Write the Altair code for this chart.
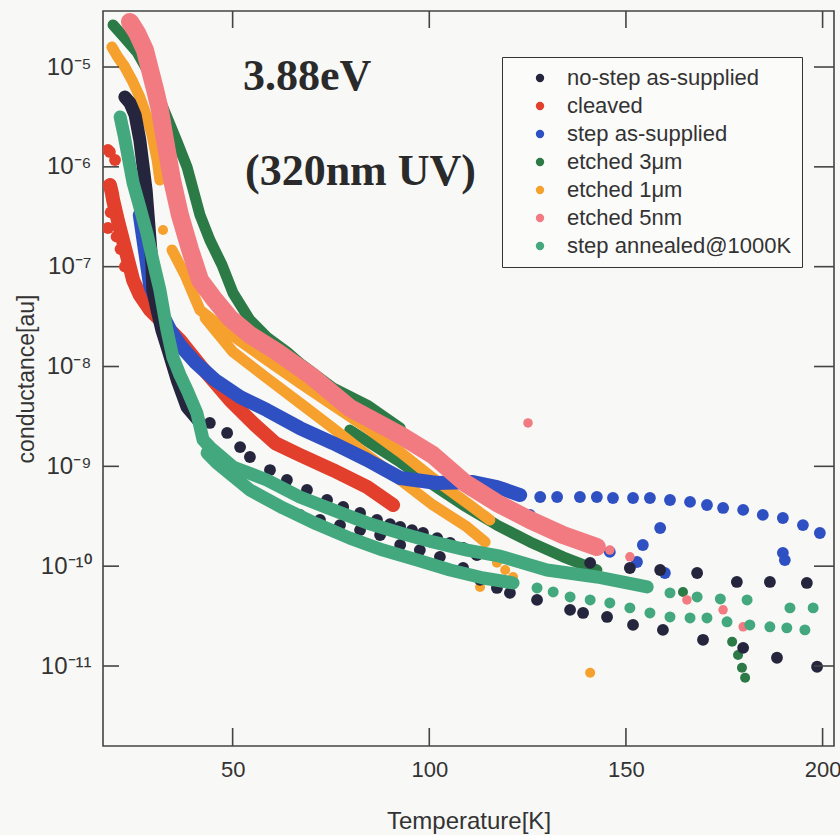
import altair as alt
import pandas as pd

SERIES = ["no-step as-supplied", "cleaved", "step as-supplied", "etched 3μm",
          "etched 1μm", "etched 5nm", "step annealed@1000K"]
COLORS = ["#25253d", "#e23f2c", "#2f50c2", "#2c7a46", "#f6a02e", "#f27b82", "#43a87e"]

X_TICKS = [50, 100, 150, 200]
Y_TICKS = [1e-5, 1e-6, 1e-7, 1e-8, 1e-9, 1e-10, 1e-11]
Y_LABELS = ["10\u207b\u2075", "10\u207b\u2076", "10\u207b\u2077", "10\u207b\u2078",
            "10\u207b\u2079", "10\u207b\u00b9\u2070", "10\u207b\u00b9\u00b9"]
X_DOMAIN = [17.04, 202.9]
Y_DOMAIN = [1.58e-12, 3.64e-5]

# ---------------- data ----------------
# cleaved
red_band_T = [18.8, 19.3, 19.6, 20.8, 22.1, 23.4, 24.7, 26.4, 29.0, 32.8, 36.6, 41.7, 49.3, 55.7, 60.8, 67.1, 75.5, 84.2, 90.8]
red_band_G = [6.58e-7, 5.47e-7, 4.66e-7, 2.93e-7, 1.85e-7, 1.17e-7, 7.35e-8, 5.20e-8, 3.68e-8, 2.61e-8, 1.84e-8, 1.03e-8,
              4.62e-9, 2.59e-9, 1.71e-9, 1.30e-9, 9.18e-10, 6.21e-10, 4.10e-10]
red_pts_T = [18.3, 18.8, 20.1, 18.3, 19.0, 20.5, 21.5, 22.6]
red_pts_G = [1.48e-6, 1.41e-6, 1.17e-6, 2.44e-7, 3.5e-7, 2.0e-7, 1.5e-7, 1.0e-7]

# etched 3um
green_a_T = [19.6, 22.6, 25.7, 29.0, 31.5, 33.6, 35.9, 38.4, 41.7, 44.2, 47.3, 50.1, 54.4, 58.7, 63.8, 67.1, 75.5, 84.2, 92.6]
green_a_G = [2.64e-5, 1.95e-5, 1.41e-5, 8.32e-6, 4.67e-6, 2.94e-6, 1.77e-6, 9.98e-7, 3.29e-7, 1.85e-7, 1.04e-7, 5.45e-8,
             2.92e-8, 1.97e-8, 1.40e-8, 1.08e-8, 6.10e-9, 4.11e-9, 2.42e-9]
green_b_T = [79.8, 92.6, 100.2, 108.6, 117.2, 125.6, 134.0, 142.6]
green_b_G = [2.31e-9, 1.10e-9, 6.81e-10, 4.10e-10, 2.58e-10, 1.75e-10, 1.24e-10, 9.16e-11]
green_pts_T = [153.6, 164.5, 177.0, 178.5, 179.5, 180.3]
green_pts_G = [6.49e-11, 5.52e-11, 1.75e-11, 1.29e-11, 9.59e-12, 7.62e-12]

# etched 1um
orange_top_T = [19.3, 20.8, 22.6, 24.4, 26.4, 28.2, 29.5, 30.8, 31.5]
orange_top_G = [1.59e-5, 1.26e-5, 1.0e-5, 7.41e-6, 5.01e-6, 3.16e-6, 2.08e-6, 1.17e-6, 7.38e-7]
orange_up_T = [34.6, 37.9, 41.7, 50.1, 58.7, 67.1, 75.5, 84.2, 92.6, 100.9, 109.6, 115.4]
orange_up_G = [1.47e-7, 8.26e-8, 3.68e-8, 2.02e-8, 1.16e-8, 6.84e-9, 4.11e-9, 2.42e-9, 1.39e-9, 7.64e-10, 4.30e-10, 2.90e-10]
orange_low_T = [43.0, 50.1, 58.7, 67.1, 75.5, 84.2, 92.6, 100.9, 109.6, 114.2]
orange_low_G = [3.06e-8, 1.40e-8, 7.67e-9, 4.31e-9, 2.42e-9, 1.30e-9, 7.30e-10, 4.10e-10, 2.47e-10, 1.75e-10]
orange_pts_T = [32.3, 117.2, 119.3, 121.3, 112.9, 140.9]
orange_pts_G = [2.33e-7, 1.08e-10, 9.16e-11, 7.80e-11, 6.19e-11, 8.55e-12]

# step as-supplied
blue_band_T = [26.4, 27.7, 29.0, 31.5, 34.1, 36.6, 40.4, 45.5, 51.9, 58.7, 67.1, 75.5, 84.2, 92.6, 102.0, 111.1, 117.2, 123.1]
blue_band_G = [3.29e-7, 1.47e-7, 6.55e-8, 3.68e-8, 2.32e-8, 1.64e-8, 1.11e-8, 7.33e-9, 4.95e-9, 3.66e-9, 2.42e-9, 1.71e-9,
               1.16e-9, 7.64e-10, 6.81e-10, 6.97e-10, 6.21e-10, 5.16e-10]
blue_pts_T = [128.2, 132.5, 138.3, 142.6, 146.7, 151.8, 156.1, 161.2, 166.3, 170.6, 174.7, 179.8, 184.8, 189.9, 195.0, 199.3,
              158.7, 154.3, 189.9, 190.4, 125.6, 130.7, 138.3, 145.9, 152.8, 159.9]
blue_pts_G = [4.93e-10, 4.93e-10, 4.93e-10, 4.93e-10, 4.82e-10, 4.82e-10, 4.82e-10, 4.60e-10, 4.40e-10, 4.10e-10, 3.83e-10,
              3.66e-10, 3.26e-10, 3.04e-10, 2.58e-10, 2.15e-10, 2.41e-10, 1.63e-10, 1.36e-10, 1.15e-10,
              3.26e-10, 2.30e-10, 1.83e-10, 1.39e-10, 1.10e-10, 8.55e-11]

# no-step as-supplied
black_band_T = [22.6, 23.9, 25.2, 26.4, 27.2, 28.0, 28.5, 29.0, 29.5, 29.7, 30.8, 32.0, 33.6, 35.9, 38.4, 41.2]
black_band_G = [5.01e-6, 4.36e-6, 3.30e-6, 1.86e-6, 1.04e-6, 5.86e-7, 3.29e-7, 1.85e-7, 1.04e-7, 5.84e-8, 3.68e-8, 2.32e-8,
                1.46e-8, 7.33e-9, 3.93e-9, 2.91e-9]
black_pts_T = [44.2, 48.6, 51.9, 54.4, 59.5, 63.8, 68.9, 74.0, 78.1, 82.4, 86.7, 90.0, 92.6, 95.6, 98.4, 102.0, 105.3, 108.6,
               112.1, 140.9, 151.0, 158.7, 168.1, 178.2, 186.6, 196.0,
               67.1, 72.2, 77.3, 82.4, 87.5, 92.6, 97.6, 102.7, 108.6, 112.9, 117.2, 120.5, 127.4, 135.8, 139.1, 145.2,
               151.8, 159.4, 169.6, 179.8, 188.4, 198.6]
black_pts_G = [2.72e-9, 2.16e-9, 1.56e-9, 1.24e-9, 9.18e-10, 7.30e-10, 5.79e-10, 4.60e-10, 3.92e-10, 3.41e-10, 2.90e-10,
               2.64e-10, 2.47e-10, 2.30e-10, 2.15e-10, 1.91e-10, 1.71e-10, 1.52e-10, 1.29e-10, 1.08e-10, 9.59e-11,
               9.16e-11, 8.55e-11, 6.95e-11, 6.95e-11, 6.79e-11,
               3.26e-10, 2.90e-10, 2.58e-10, 2.30e-10, 2.05e-10, 1.63e-10, 1.45e-10, 1.24e-10, 9.59e-11, 7.28e-11,
               6.05e-11, 5.40e-11, 4.59e-11, 3.65e-11, 3.40e-11, 3.10e-11, 2.58e-11, 2.30e-11, 1.83e-11, 1.52e-11,
               1.21e-11, 9.82e-12]

# etched 5nm
pink_band_T = [23.9, 25.7, 27.7, 29.0, 30.3, 31.5, 32.8, 34.6, 36.6, 39.2, 41.7, 45.5, 49.3, 54.4, 61.3, 69.7, 79.8, 92.6,
               100.9, 109.1, 117.2, 125.6, 134.0, 142.6]
pink_band_G = [2.83e-5, 2.19e-5, 1.48e-5, 9.33e-6, 5.89e-6, 3.71e-6, 1.86e-6, 7.38e-7, 3.29e-7, 1.47e-7, 7.35e-8, 4.63e-8,
               3.06e-8, 2.07e-8, 1.40e-8, 8.22e-9, 3.84e-9, 2.06e-9, 1.30e-9, 6.81e-10, 4.30e-10, 2.90e-10, 2.05e-10,
               1.56e-10]
pink_pts_T = [145.9, 151.0, 165.5, 174.7, 179.8, 125.1]
pink_pts_G = [1.45e-10, 1.24e-10, 4.59e-11, 3.65e-11, 2.47e-11, 2.72e-9]

# step annealed@1000K
teal_a_T = [21.4, 22.4, 23.1, 24.7, 26.4, 28.2, 29.7, 31.5, 33.3, 34.8, 36.6, 38.4, 40.9, 42.5, 44.2, 50.1, 58.7, 67.1,
            75.5, 84.2, 92.6, 100.9, 109.6, 118.0, 129.9, 142.6, 155.4]
teal_a_G = [3.16e-6, 2.08e-6, 1.48e-6, 6.89e-7, 3.96e-7, 2.17e-7, 1.17e-7, 5.84e-8, 2.32e-8, 1.24e-8, 8.22e-9, 5.82e-9,
            3.42e-9, 1.84e-9, 1.56e-9, 9.84e-10, 7.30e-10, 4.93e-10, 3.66e-10, 2.71e-10, 2.15e-10, 1.75e-10, 1.45e-10,
            1.26e-10, 9.16e-11, 7.80e-11, 6.19e-11]
teal_b_T = [43.5, 46.0, 54.4, 62.8, 71.4, 79.8, 88.2, 96.9, 105.3, 113.7, 121.3]
teal_b_G = [1.36e-9, 1.08e-9, 5.79e-10, 3.83e-10, 2.64e-10, 1.91e-10, 1.45e-10, 1.15e-10, 9.16e-11, 7.61e-11, 6.79e-11]
teal_pts_T = [161.2, 168.1, 174.0, 180.8, 191.7, 197.6, 127.4, 131.5, 135.8, 140.9, 145.9, 151.0, 156.1, 161.2, 166.3,
              170.6, 175.7, 181.5, 186.6, 190.9, 195.5]
teal_pts_G = [5.40e-11, 4.92e-11, 4.70e-11, 4.59e-11, 3.82e-11, 3.82e-11, 6.05e-11, 5.52e-11, 4.92e-11, 4.59e-11,
              4.28e-11, 3.82e-11, 3.40e-11, 3.10e-11, 3.03e-11, 3.03e-11, 2.77e-11, 2.58e-11, 2.47e-11, 2.41e-11,
              2.30e-11]

# ---------------- chart ----------------
W, H = 731, 735
INK = "#333333"
SANS = "Liberation Sans"
COLOR_OF = dict(zip(SERIES, COLORS))

xscale = alt.Scale(domain=X_DOMAIN, nice=False, zero=False)
yscale = alt.Scale(type="log", domain=Y_DOMAIN, nice=False)
cscale = alt.Scale(domain=SERIES, range=COLORS)

label_expr = "[" + ",".join("'%s'" % s for s in Y_LABELS) + "][round(-5 - log(datum.value)/LN10)]"

XAXIS = alt.Axis(values=X_TICKS, title="Temperature[K]", domain=False, ticks=False, grid=False,
                 labelFont=SANS, labelFontSize=22, labelColor=INK, labelPadding=13,
                 titleFont=SANS, titleFontSize=24, titleFontWeight="normal", titleColor=INK,
                 titleY=82, titleBaseline="alphabetic")
YAXIS = alt.Axis(values=Y_TICKS, labelExpr=label_expr, title="conductance[au]", domain=False, ticks=False,
                 grid=False, labelFont=SANS, labelFontSize=24, labelColor=INK, labelPadding=12,
                 titleFont=SANS, titleFontSize=23, titleFontWeight="normal", titleColor=INK,
                 titleX=-70, titleBaseline="alphabetic")

LEGEND = alt.Legend(title=None, orient="none", legendX=399, legendY=46, direction="vertical",
                    fillColor="#fbfbfa", strokeColor=INK, padding=10, labelFont=SANS, labelFontSize=22,
                    labelColor=INK, symbolType="circle", symbolSize=70, symbolStrokeWidth=0,
                    symbolOffset=17, labelOffset=16, rowPadding=6, labelLimit=400)


def X():
    return alt.X("T:Q", scale=xscale, axis=XAXIS)


def Y():
    return alt.Y("G:Q", scale=yscale, axis=YAXIS)


def band(name, runs, width):
    rows = []
    for r, (ts, gs) in enumerate(runs):
        for i, (t, g) in enumerate(zip(ts, gs)):
            rows.append({"run": r, "i": i, "T": t, "G": g})
    return alt.Chart(pd.DataFrame(rows)).mark_line(
        strokeWidth=width, strokeCap="round", strokeJoin="round", clip=True
    ).encode(x=X(), y=Y(), color=alt.value(COLOR_OF[name]), detail="run:N", order="i:Q")


def pts(name, ts, gs, size):
    df = pd.DataFrame({"series": [name] * len(ts), "T": ts, "G": gs})
    return alt.Chart(df).mark_circle(size=size, opacity=1, clip=True).encode(
        x=X(), y=Y(), color=alt.Color("series:N", scale=cscale, legend=LEGEND))


layers = [
    band("cleaved", [(red_band_T, red_band_G)], 14),
    pts("cleaved", red_pts_T, red_pts_G, 140),
    band("etched 3μm", [(green_a_T, green_a_G), (green_b_T, green_b_G)], 11),
    pts("etched 3μm", green_pts_T, green_pts_G, 100),
    band("etched 1μm", [(orange_top_T, orange_top_G), (orange_up_T, orange_up_G), (orange_low_T, orange_low_G)], 11),
    pts("etched 1μm", orange_pts_T, orange_pts_G, 100),
    band("step as-supplied", [(blue_band_T, blue_band_G)], 14),
    pts("step as-supplied", blue_pts_T, blue_pts_G, 140),
    band("no-step as-supplied", [(black_band_T, black_band_G)], 13),
    pts("no-step as-supplied", black_pts_T, black_pts_G, 140),
    band("etched 5nm", [(pink_band_T, pink_band_G)], 18),
    pts("etched 5nm", pink_pts_T, pink_pts_G, 90),
    band("step annealed@1000K", [(teal_a_T, teal_a_G), (teal_b_T, teal_b_G)], 13),
    pts("step annealed@1000K", teal_pts_T, teal_pts_G, 120),
]

xt = pd.DataFrame({"T": X_TICKS})
yt = pd.DataFrame({"G": Y_TICKS})
tick_style = dict(color="#444444", strokeWidth=1.6)
layers += [
    alt.Chart(xt).mark_rule(**tick_style).encode(x=X(), y=alt.value(H), y2=alt.value(H - 18)),
    alt.Chart(xt).mark_rule(**tick_style).encode(x=X(), y=alt.value(0), y2=alt.value(17)),
    alt.Chart(yt).mark_rule(**tick_style).encode(y=Y(), x=alt.value(0), x2=alt.value(16)),
    alt.Chart(yt).mark_rule(**tick_style).encode(y=Y(), x=alt.value(W), x2=alt.value(W - 20)),
]

one = alt.Data(values=[{"k": 1}])
layers += [
    alt.Chart(one).mark_text(text="3.88eV", font="Liberation Serif", fontWeight="bold", fontSize=44,
                             align="left", baseline="alphabetic", color="#2a2a2a").encode(
        x=alt.value(140), y=alt.value(79)),
    alt.Chart(one).mark_text(text="(320nm UV)", font="Liberation Serif", fontWeight="bold", fontSize=44,
                             align="left", baseline="alphabetic", color="#2a2a2a").encode(
        x=alt.value(142), y=alt.value(174)),
]

chart = alt.layer(*layers).properties(
    width=W, height=H,
    padding={"left": 103, "top": 11, "right": 6, "bottom": 89},
    autosize=alt.AutoSizeParams(type="none"),
    background="#f8f8f6",
).configure_view(stroke="#444444", strokeWidth=1.6)

chart.save("out.html", embed_options={"renderer": "svg", "actions": False})
